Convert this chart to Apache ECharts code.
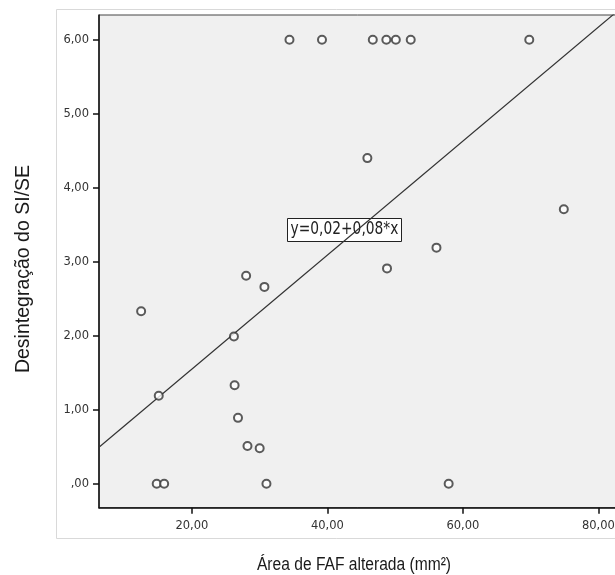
<!DOCTYPE html>
<html>
<head>
<meta charset="utf-8">
<script src="https://cdn.jsdelivr.net/npm/echarts@6/dist/echarts.min.js"></script>
<style>
html,body{margin:0;padding:0;background:#fff;overflow:hidden;}
#chart{width:615px;height:575px;}
</style>
</head>
<body>
<div id="chart"></div>
<script>
// Data
const areaFAF = [34.4, 39.2, 46.7, 48.7, 50.1, 52.3, 69.8, 45.9, 74.9, 56.1, 48.8, 28.0, 30.7, 12.5, 26.2, 26.3, 15.1, 26.8, 28.2, 30.0, 14.8, 15.9, 31.0, 57.9];
const desintegracao = [6.0, 6.0, 6.0, 6.0, 6.0, 6.0, 6.0, 4.40, 3.71, 3.19, 2.91, 2.81, 2.66, 2.33, 1.99, 1.33, 1.19, 0.89, 0.51, 0.48, 0.0, 0.0, 0.0, 0.0];
const fitCoefficients = [0.01, 0.077]; // intercept, slope (displayed as y=0,02+0,08*x)
const equationText = 'y=0,02+0,08*x';
const xTickValues = [20, 40, 60, 80];
const yTickValues = [0, 1, 2, 3, 4, 5, 6];
const xTitle = 'Área de FAF alterada (mm²)';
const yTitle = 'Desintegração do SI/SE';

const xMin = 6.28, xMax = 86, yMin = -0.324, yMax = 6.334;

const points = areaFAF.map((x, i) => [x, desintegracao[i]]);
const fitLine = [xMin, xMax].map(x => [x, fitCoefficients[0] + fitCoefficients[1] * x]);

const fmt = v => {
  if (Math.abs(v) < 1e-9) return ',00';
  return v.toFixed(2).replace('.', ',');
};

const chart = echarts.init(document.getElementById('chart'), null, {renderer: 'canvas'});
chart.setOption({
  backgroundColor: '#ffffff',
  animation: false,
  graphic: [
    {type: 'rect', z: -10, shape: {x: 56.5, y: 9.5, width: 700, height: 529}, style: {fill: '#ffffff', stroke: '#d9d9d9', lineWidth: 1}},
    {type: 'text', z: 10, x: 24, y: 269, rotation: Math.PI / 2,
      style: {text: yTitle, font: '19.5px "Liberation Sans", Arial, sans-serif', fill: '#1a1a1a', align: 'center', verticalAlign: 'middle'}},
    {type: 'text', z: 10, x: 354, y: 565, scaleY: 1.2,
      style: {text: xTitle, font: '15.6px "Liberation Sans", Arial, sans-serif', fill: '#1a1a1a', align: 'center', verticalAlign: 'middle'}},
    {type: 'group', z: 20, x: 344.5, y: 230, children: [
      {type: 'rect', shape: {x: -57, y: -11.5, width: 114, height: 23}, style: {fill: '#ffffff', stroke: '#222', lineWidth: 1}},
      {type: 'text', scaleY: 1.25, style: {text: equationText, font: '13.8px "DejaVu Sans", Verdana, sans-serif', fill: '#222', align: 'center', verticalAlign: 'middle'}}
    ]}
  ],
  grid: {
    left: 99, top: 15, bottom: 67.3, width: 540,
    outerBoundsMode: 'none',
    show: true, backgroundColor: '#f0f0f0', borderColor: '#444', borderWidth: 1,
    containLabel: false
  },
  xAxis: {
    type: 'value', min: xMin, max: xMax,
    axisLine: {show: true, onZero: false, lineStyle: {color: '#111', width: 1.5}},
    axisTick: {show: true, length: 6, lineStyle: {color: '#111', width: 1.5}, customValues: xTickValues},
    axisLabel: {customValues: xTickValues, formatter: fmt, color: '#333', fontSize: 11.5, fontFamily: '"DejaVu Sans", Verdana, sans-serif', margin: 12, hideOverlap: false},
    splitLine: {show: false}
  },
  yAxis: {
    type: 'value', min: yMin, max: yMax,
    axisLine: {show: true, onZero: false, lineStyle: {color: '#111', width: 1.5}},
    axisTick: {show: true, length: 6, lineStyle: {color: '#111', width: 1.5}, customValues: yTickValues},
    axisLabel: {customValues: yTickValues, formatter: fmt, color: '#333', fontSize: 11.5, fontFamily: '"DejaVu Sans", Verdana, sans-serif', margin: 10},
    splitLine: {show: false}
  },
  series: [
    {
      type: 'line', data: fitLine, showSymbol: false, symbol: 'none', clip: true,
      lineStyle: {color: '#333', width: 1.2}, silent: true, z: 2
    },
    {
      type: 'scatter', data: points, symbol: 'emptyCircle', symbolSize: 8,
      itemStyle: {color: '#333', borderColor: '#333', borderWidth: 1.5}, z: 3
    }
  ]
});
</script>
</body>
</html>
